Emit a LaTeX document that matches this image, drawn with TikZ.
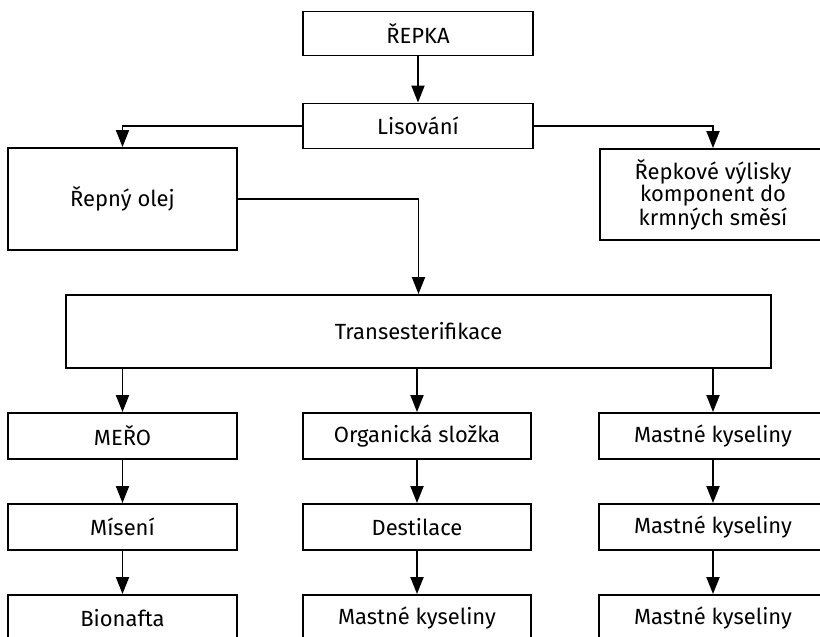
\documentclass[tikz,border=0pt]{standalone}
\usepackage{fontspec}
\setmainfont{Fira Sans}
\usetikzlibrary{arrows.meta}
\tikzset{
    box/.style={draw, line width=1.1pt, inner sep=0pt, align=center,
        font=\fontsize{12.5}{12.5}\selectfont},
    flow/.style={line width=1.1pt, -{Triangle[length=0.34cm, width=0.26cm]}}
}
\begin{document}
\begin{tikzpicture}[x=0.02cm, y=-0.02cm]
    \useasboundingbox (0, 0) rectangle (820, 636);
    \clip (0, 0) rectangle (820, 636);

    %%top
    \node[box, minimum width=4.6cm, minimum height=0.88cm] (repka) at (418, 33.5){ŘEPKA};
    \node[box, minimum width=4.6cm, minimum height=0.9cm] (lis) at (418, 126){Lisování};
    \draw[flow] (repka.south) to (lis.north);

    %%branch
    \node[box, minimum width=4.58cm, minimum height=2.04cm] (olej) at (122.5, 199){Řepný olej};
    \node[box, minimum width=4.52cm, minimum height=1.82cm] (vylisky) at (713, 194.5)
        {Řepkové výlisky\\komponent do\\krmných směsí};
    \draw[flow] (lis.west) -| (olej.north);
    \draw[flow] (lis.east) -| (vylisky.north);

    \node[box, minimum width=14.1cm, minimum height=1.46cm] (trans) at (418.5, 331.5){Transesterifikace};
    \draw[flow] (olej.east) -| (trans.north);

    %%left column
    \node[box, minimum width=4.58cm, minimum height=0.92cm] (mero) at (122.5, 436){MEŘO};
    \node[box, minimum width=4.58cm, minimum height=0.92cm] (miseni) at (122.5, 527){Mísení};
    \node[box, minimum width=4.58cm, minimum height=0.92cm] (bionafta) at (122.5, 618){Bionafta};
        \draw[flow] (mero.north |- trans.south) to (mero.north);
        \draw[flow] (mero.south) to (miseni.north);
        \draw[flow] (miseni.south) to (bionafta.north);

    %%middle column
    \node[box, minimum width=4.56cm, minimum height=0.92cm] (organ) at (417, 436){Organická složka};
    \node[box, minimum width=4.56cm, minimum height=0.92cm] (destil) at (417, 527){Destilace};
    \node[box, minimum width=4.56cm, minimum height=0.92cm] (kysmid) at (417, 618){Mastné kyseliny};
        \draw[flow] (organ.north |- trans.south) to (organ.north);
        \draw[flow] (organ.south) to (destil.north);
        \draw[flow] (destil.south) to (kysmid.north);

    %%right column
    \node[box, minimum width=4.56cm, minimum height=0.92cm] (kysa) at (713, 436){Mastné kyseliny};
    \node[box, minimum width=4.56cm, minimum height=0.92cm] (kysb) at (713, 527){Mastné kyseliny};
    \node[box, minimum width=4.56cm, minimum height=0.92cm] (kysc) at (713, 618){Mastné kyseliny};
        \draw[flow] (kysa.north |- trans.south) to (kysa.north);
        \draw[flow] (kysa.south) to (kysb.north);
        \draw[flow] (kysb.south) to (kysc.north);
\end{tikzpicture}
\end{document}
